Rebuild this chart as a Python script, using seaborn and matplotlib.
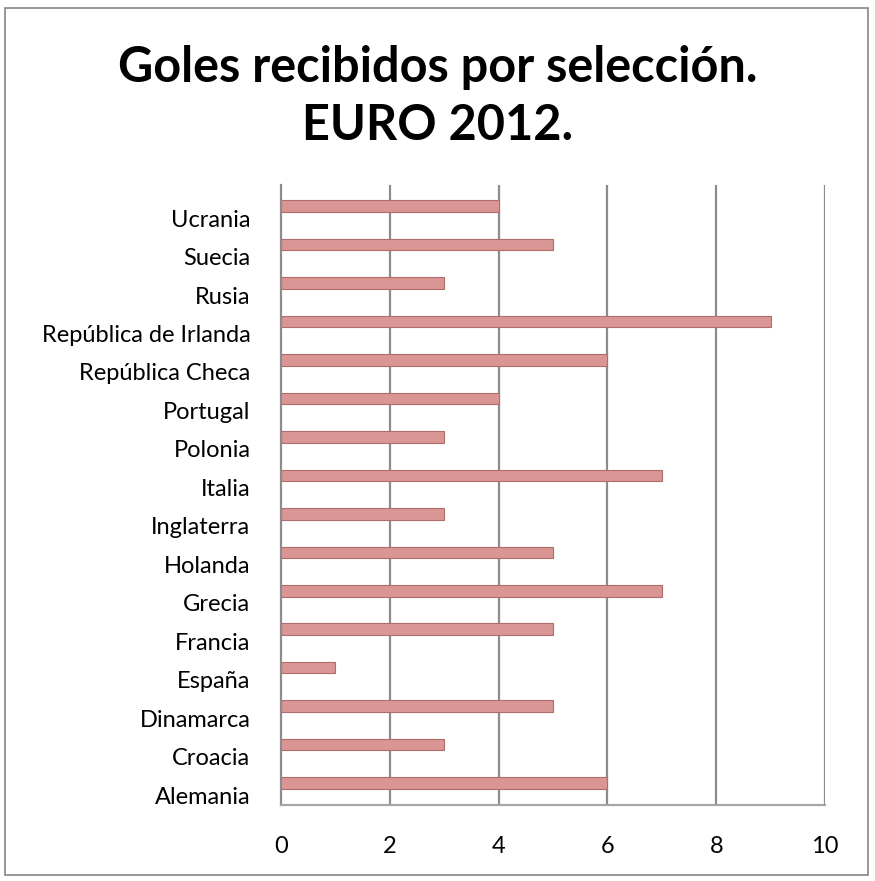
import matplotlib
matplotlib.use("Agg")
import matplotlib.pyplot as plt
import seaborn as sns
import pandas as pd
import numpy as np
from matplotlib.patches import Rectangle

countries = ["Ucrania", "Suecia", "Rusia", "República de Irlanda", "República Checa",
             "Portugal", "Polonia", "Italia", "Inglaterra", "Holanda", "Grecia",
             "Francia", "España", "Dinamarca", "Croacia", "Alemania"]
goals = [4, 5, 3, 9, 6, 4, 3, 7, 3, 5, 7, 5, 1, 5, 3, 6]
xticks = [0, 2, 4, 6, 8, 10]

sns.set_theme(style="white")
plt.rcParams["font.family"] = ["Lato", "DejaVu Sans"]
plt.rcParams["text.color"] = "black"

df = pd.DataFrame({"País": countries, "Goles": goals})

fig = plt.figure(figsize=(8.75, 8.81), dpi=100)
ax = fig.add_axes([281/875, 76/881, 544/875, 620/881])

sns.barplot(data=df, y="País", x="Goles", orient="h", order=countries,
            color="#D99694", saturation=1, width=0.3, edgecolor="#B26B69",
            linewidth=0.8, ax=ax)

ax.set_xlim(0, 10)
ax.set_ylim(15.57, -0.55)
ax.set_xticks(xticks)
ax.set_xticklabels([str(t) for t in xticks], fontsize=17, color="black")
ax.set_yticks(np.arange(len(countries)) + 0.31)
ax.set_yticklabels(countries, fontsize=17, color="black")
ax.tick_params(axis="y", length=0, pad=22)
ax.tick_params(axis="x", length=0, pad=22)
ax.set_xlabel("")
ax.set_ylabel("")
for t in xticks[1:]:
    ax.axvline(t, color="#8C8C8C", lw=1.6, zorder=0)
for s in ["top", "right"]:
    ax.spines[s].set_visible(False)
ax.spines["left"].set_color("#8C8C8C")
ax.spines["left"].set_linewidth(1.6)
ax.spines["bottom"].set_color("#A6A6A6")
ax.spines["bottom"].set_linewidth(1.6)
ax.set_facecolor("white")

fig.text(0.5, 0.890, "Goles recibidos por selección.\nEURO 2012.", ha="center", va="center",
         fontsize=35, fontweight="bold", linespacing=1.35, color="black")

fig.patches.append(Rectangle((5/875, 1 - 875/881), 863/875, 867/881, transform=fig.transFigure,
                             fill=False, edgecolor="#868686", lw=1.2))

fig.savefig("out.png", dpi=100)
